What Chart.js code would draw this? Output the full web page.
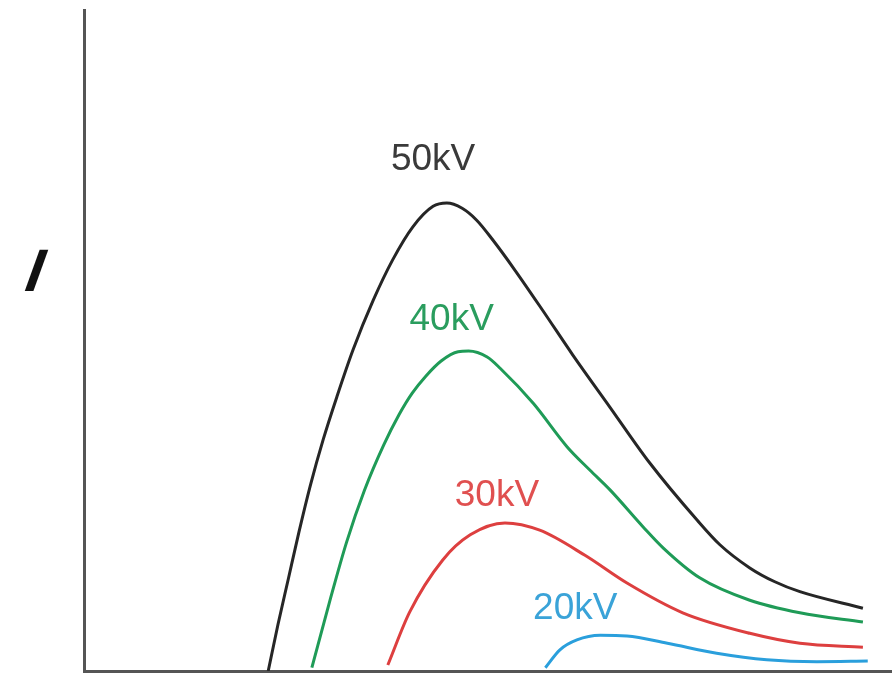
<!DOCTYPE html>
<html>
<head>
<meta charset="utf-8">
<script src="https://cdn.jsdelivr.net/npm/chart.js@4"></script>
<style>
  html, body { margin: 0; padding: 0; background: #fff; }
  #wrap { width: 892px; height: 675px; }
</style>
</head>
<body>
<div id="wrap"><canvas id="chart"></canvas></div>
<script>
// wavelength (arbitrary units, 0-100) vs intensity (arbitrary units, 0-100)
const kv50 = [[22.8,0],[24.0,7],[25.3,14],[26.6,21],[28.0,28],[29.6,35],[31.3,41.5],[33.3,48.6],[35.8,56.1],[38.2,62.2],[40.7,67.2],[43.2,70.3],[44.9,70.8],[46.8,70.0],[48.6,68.2],[50.6,65.2],[53.3,60.7],[56.8,54.5],[60.5,47.8],[65.1,39.9],[70.0,31.5],[75.9,22.8],[78.7,19.1],[82.4,15.6],[85.5,13.5],[88.6,12.0],[96.4,9.5]];
const kv40 = [[28.2,0.5],[30.4,10.5],[32.5,19.5],[34.7,27.3],[37.1,34.2],[39.0,38.8],[40.6,42.0],[42.3,44.6],[44.2,46.9],[46.3,48.3],[47.6,48.4],[49.9,47.5],[51.5,45.8],[55.6,40.5],[59.8,33.9],[62.6,30.4],[65.1,27.4],[69.2,21.8],[71.7,18.6],[76.2,14.1],[82.4,10.7],[88.6,8.8],[96.4,7.4]];
const kv30 = [[37.6,0.9],[40.3,8.9],[44.4,16.8],[47.8,20.6],[52.1,22.4],[56.4,21.3],[62.0,17.5],[67.2,13.3],[74.1,8.8],[82.4,5.7],[88.6,4.2],[96.4,3.6]];
const kv20 = [[57.1,0.5],[58.9,3.2],[61.0,4.7],[63.9,5.4],[67.2,5.3],[72.2,4.2],[78.3,2.7],[84.5,1.7],[90.7,1.4],[97.0,1.5]];

const seriesNames = ['50kV', '40kV', '30kV', '20kV'];
const seriesColors = ['#262626', '#1f9b57', '#dd3f3f', '#2a9fdc'];
const labelColors = ['#3a3a3a', '#2a9d5e', '#e05050', '#3aa3d8'];
// where each label sits, in data units
const labelPos = [[43.2,77.3],[45.5,53.1],[51.1,26.5],[60.8,9.4]];

const toPoints = arr => arr.map(p => ({ x: p[0], y: p[1] }));

const curveLabels = {
    id: 'curveLabels',
    afterDatasetsDraw(chart) {
        const ctx = chart.ctx;
        const xs = chart.scales.x;
        const ys = chart.scales.y;
        ctx.save();
        ctx.font = '37px "Liberation Sans", Arial, sans-serif';
        ctx.textAlign = 'center';
        ctx.textBaseline = 'middle';
        seriesNames.forEach((name, i) => {
            ctx.fillStyle = labelColors[i];
            ctx.fillText(name, xs.getPixelForValue(labelPos[i][0]), ys.getPixelForValue(labelPos[i][1]));
        });
        // axis label "I", slanted like the original
        ctx.fillStyle = '#111';
        ctx.font = 'bold 60px "Liberation Sans", Arial, sans-serif';
        ctx.translate(35, 274);
        ctx.transform(1, 0, -0.36, 1, 0, 0);
        ctx.fillText('I', 0, 0);
        ctx.restore();
    }
};

new Chart(document.getElementById('chart'), {
    type: 'line',
    data: {
        datasets: [kv50, kv40, kv30, kv20].map((d, i) => ({
            label: seriesNames[i],
            data: toPoints(d),
            borderColor: seriesColors[i],
            borderWidth: 3,
            pointRadius: 0,
            fill: false,
            cubicInterpolationMode: 'monotone'
        }))
    },
    options: {
        responsive: true,
        maintainAspectRatio: false,
        animation: false,
        layout: { padding: { left: 84, right: 0, top: 10, bottom: 4 } },
        plugins: {
            legend: { display: false },
            tooltip: { enabled: false }
        },
        scales: {
            x: {
                type: 'linear',
                min: 0,
                max: 100,
                ticks: { display: false },
                grid: { display: false },
                border: { display: true, color: '#555', width: 3 },
                afterFit: scale => { scale.height = 0; }
            },
            y: {
                type: 'linear',
                min: 0,
                max: 100,
                ticks: { display: false },
                grid: { display: false },
                border: { display: true, color: '#555', width: 3 },
                afterFit: scale => { scale.width = 0; }
            }
        }
    },
    plugins: [curveLabels]
});
</script>
</body>
</html>
